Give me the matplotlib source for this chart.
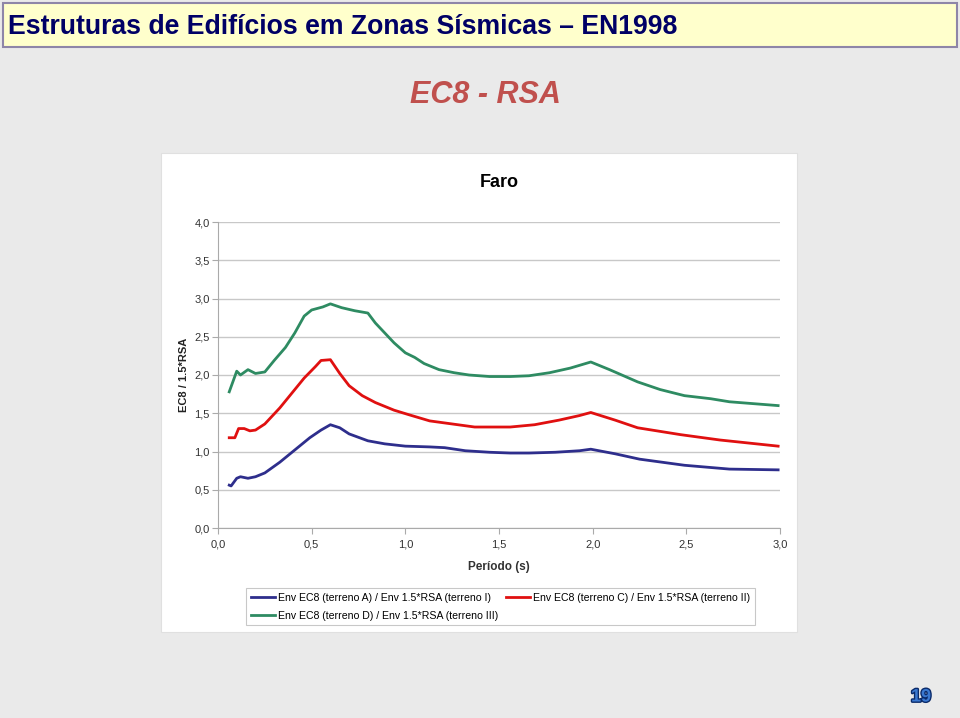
import matplotlib
matplotlib.use("Agg")
import matplotlib.pyplot as plt
from matplotlib import font_manager
from matplotlib.patches import Rectangle
import matplotlib.patheffects as pe

# ── data ─────────────────────────────────────────────────────────────────────
T_A = [0.06, 0.07, 0.10, 0.12, 0.16, 0.20, 0.25, 0.33, 0.41, 0.49, 0.55, 0.60,
       0.65, 0.70, 0.80, 0.89, 1.00, 1.13, 1.21, 1.32, 1.45, 1.56, 1.66, 1.80,
       1.93, 1.99, 2.12, 2.25, 2.49, 2.73, 2.99]
V_A = [0.56, 0.55, 0.65, 0.67, 0.65, 0.67, 0.72, 0.86, 1.02, 1.18, 1.28, 1.35,
       1.31, 1.23, 1.14, 1.10, 1.07, 1.06, 1.05, 1.01, 0.99, 0.98, 0.98, 0.99,
       1.01, 1.03, 0.97, 0.90, 0.82, 0.77, 0.76]

T_C = [0.06, 0.09, 0.11, 0.14, 0.17, 0.20, 0.25, 0.33, 0.41, 0.46, 0.52, 0.55,
       0.60, 0.65, 0.70, 0.77, 0.84, 0.94, 1.02, 1.13, 1.22, 1.37, 1.56, 1.69,
       1.82, 1.93, 1.99, 2.12, 2.24, 2.47, 2.68, 2.99]
V_C = [1.18, 1.18, 1.30, 1.30, 1.27, 1.28, 1.36, 1.57, 1.81, 1.96, 2.11, 2.19,
       2.20, 2.02, 1.86, 1.73, 1.64, 1.54, 1.48, 1.40, 1.37, 1.32, 1.32, 1.35,
       1.41, 1.47, 1.51, 1.41, 1.31, 1.22, 1.15, 1.07]

T_D = [0.06, 0.10, 0.12, 0.16, 0.20, 0.25, 0.30, 0.36, 0.41, 0.46, 0.50, 0.56,
       0.60, 0.66, 0.73, 0.80, 0.84, 0.89, 0.94, 1.00, 1.05, 1.10, 1.18, 1.26,
       1.34, 1.45, 1.56, 1.66, 1.77, 1.88, 1.99, 2.09, 2.24, 2.36, 2.49, 2.63,
       2.73, 2.99]
V_D = [1.78, 2.05, 2.00, 2.07, 2.02, 2.04, 2.19, 2.36, 2.55, 2.77, 2.85, 2.89,
       2.93, 2.88, 2.84, 2.81, 2.68, 2.55, 2.42, 2.29, 2.23, 2.15, 2.07, 2.03,
       2.00, 1.98, 1.98, 1.99, 2.03, 2.09, 2.17, 2.07, 1.91, 1.81, 1.73, 1.69,
       1.65, 1.60]

LABELS = [
    "Env EC8 (terreno A) / Env 1.5*RSA (terreno I)",
    "Env EC8 (terreno C) / Env 1.5*RSA (terreno II)",
    "Env EC8 (terreno D) / Env 1.5*RSA (terreno III)",
]
COLORS = ["#2E2E8C", "#E01010", "#2E8B62"]
X_TICKS = [0.0, 0.5, 1.0, 1.5, 2.0, 2.5, 3.0]
Y_TICKS = [0.0, 0.5, 1.0, 1.5, 2.0, 2.5, 3.0, 3.5, 4.0]

plt.rcParams["font.family"] = ["Liberation Sans", "DejaVu Sans"]

installed = {f.name for f in font_manager.fontManager.ttflist}
if "Liberation Sans Narrow" in installed:
    HEAD_FONT, HEAD_SIZE = "Liberation Sans Narrow", 22
else:
    HEAD_FONT, HEAD_SIZE = "Liberation Sans", 19.2

W, H = 960, 718
fig = plt.figure(figsize=(W / 100, H / 100), dpi=100)
fig.patch.set_facecolor("#EAEAEA")


def fx(px):
    return px / W


def fy(py):
    return 1 - py / H


# ── slide header ─────────────────────────────────────────────────────────────
fig.patches.append(Rectangle((fx(3), fy(47)), fx(954), 44 / H, transform=fig.transFigure,
                             facecolor="#FFFFCC", edgecolor="#8E86A8", linewidth=1.5,
                             zorder=-2))
fig.text(fx(8), fy(27), "Estruturas de Edifícios em Zonas Sísmicas \u2013 EN1998",
         fontsize=HEAD_SIZE, fontweight="bold", color="#000066", va="center", ha="left",
         family=HEAD_FONT)
fig.text(fx(485), fy(95), "EC8 - RSA", fontsize=22, fontweight="bold", style="italic",
         color="#C0504D", ha="center", va="center")

# white chart panel
fig.patches.append(Rectangle((fx(161), fy(632)), fx(636), 479 / H, transform=fig.transFigure,
                             facecolor="white", edgecolor="#E0E0E0", linewidth=0.8,
                             zorder=-1))

# ── chart ────────────────────────────────────────────────────────────────────
ax = fig.add_axes([fx(218), fy(528), fx(562), 306 / H])
ax.set_zorder(2)
handles = []
for t, v, c, lab in zip([T_A, T_C, T_D], [V_A, V_C, V_D], COLORS, LABELS):
    h, = ax.plot(t, v, color=c, linewidth=2, label=lab)
    handles.append(h)

ax.set_xlim(0, 3.0)
ax.set_ylim(0, 4.0)
ax.set_xticks(X_TICKS)
ax.set_yticks(Y_TICKS)
ax.set_xticklabels([f"{v:.1f}".replace(".", ",") for v in X_TICKS])
ax.set_yticklabels([f"{v:.1f}".replace(".", ",") for v in Y_TICKS])
ax.tick_params(labelsize=8, colors="#333333", length=4, color="#AAAAAA")
ax.tick_params(axis="y", pad=2)
ax.tick_params(axis="x", pad=4.5)
ax.grid(axis="y", color="#C8C8C8", linewidth=1)
ax.set_axisbelow(True)
for s in ["top", "right"]:
    ax.spines[s].set_visible(False)
for s in ["left", "bottom"]:
    ax.spines[s].set_color("#AAAAAA")
ax.set_facecolor("white")

ax.set_title("Faro", fontsize=13, fontweight="bold", pad=25)
ax.set_xlabel("Período (s)", fontsize=8.5, fontweight="bold", color="#333333", labelpad=8)
ax.set_ylabel("EC8 / 1.5*RSA", fontsize=8, fontweight="bold", color="#222222", labelpad=4)

# column-major fill: A, D in first column, C in second
order = [0, 2, 1]
leg = fig.legend([handles[i] for i in order], [LABELS[i] for i in order],
                 loc="upper left", bbox_to_anchor=(fx(246), fy(588)), ncol=2,
                 fontsize=7.6, frameon=True, fancybox=False, handlelength=2.3,
                 handletextpad=0.3, columnspacing=0.7, borderpad=0.45,
                 labelspacing=0.75, edgecolor="#BBBBBB", facecolor="white",
                 borderaxespad=0)
leg.get_frame().set_linewidth(0.8)
leg.set_zorder(3)

# page number
fig.text(fx(921), fy(697), "19", fontsize=13, fontweight="bold", color="#3A78D0",
         ha="center", va="center",
         path_effects=[pe.withStroke(linewidth=2, foreground="#0A2A6A")])

fig.savefig("out.png", dpi=100, facecolor=fig.get_facecolor())
